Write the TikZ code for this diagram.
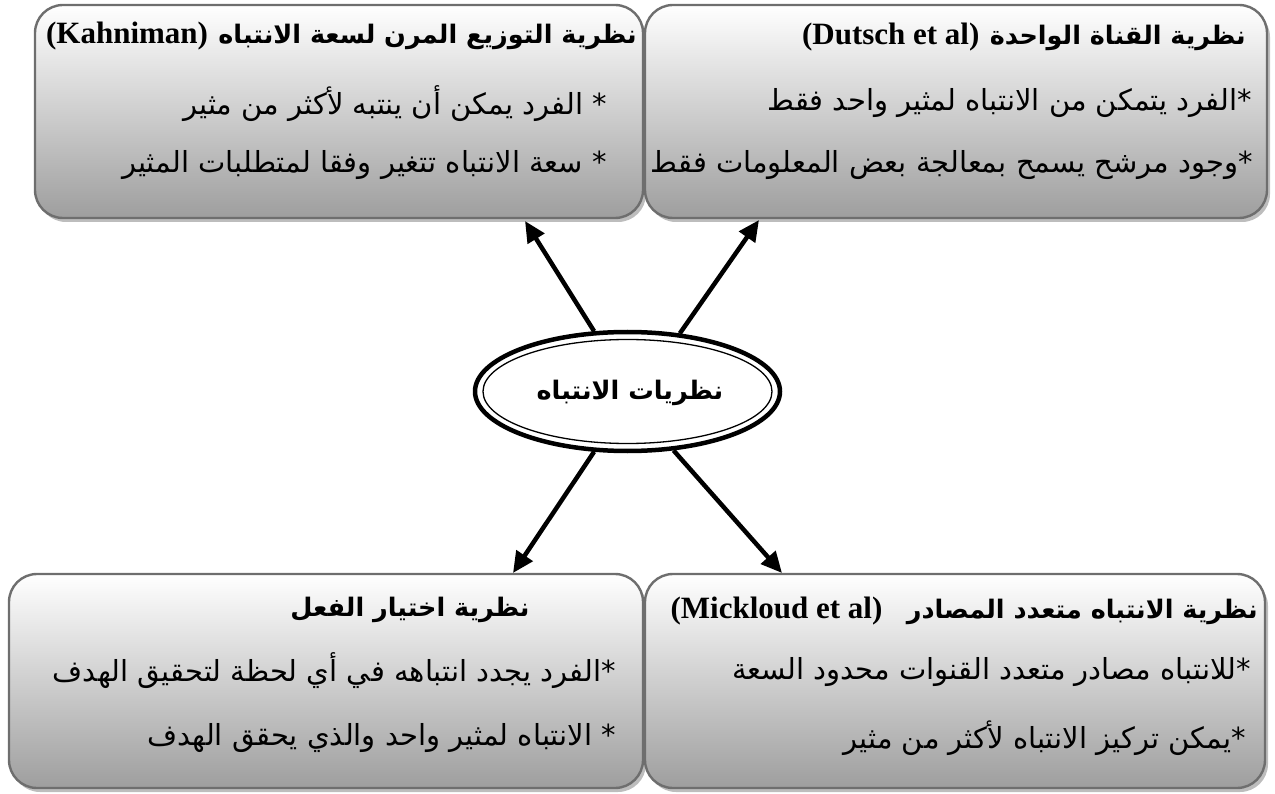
\documentclass[tikz,border=0pt]{standalone}
\usepackage{fontspec}
\TeXXeTstate=1
\newfontfamily\arabicfont[Script=Arabic]{DejaVu Sans}
\newfontfamily\latinfont{Liberation Serif}
\usetikzlibrary{shapes.geometric,arrows.meta,shadows}
\definecolor{boxedge}{HTML}{6E6E6E}
\definecolor{boxbottom}{HTML}{9E9E9E}
\definecolor{shadowgray}{HTML}{BDBDBD}
\tikzset{
  theorybox/.style={rectangle, rounded corners=28pt, draw=boxedge, line width=2.4pt,
    top color=white, bottom color=boxbottom, inner sep=0pt,
    drop shadow={shadow xshift=3pt, shadow yshift=-4pt, fill=shadowgray, opacity=1}},
  titletext/.style={inner sep=0pt, font=\arabicfont\bfseries\fontsize{25.5}{30}\selectfont},
  latintitle/.style={inner sep=0pt, font=\latinfont\bfseries\fontsize{31}{35}\selectfont},
  bodytext/.style={inner sep=0pt, font=\arabicfont\fontsize{29}{34}\selectfont},
  arr/.style={line width=4.5pt, -{Triangle[length=21pt,width=19pt]}},
}
\begin{document}
\begin{tikzpicture}[x=1pt,y=-1pt]
\useasboundingbox (0,0) rectangle (1275,794);
% boxes
\node[theorybox, minimum width=608pt, minimum height=213pt] (tl) at (339,111.5) {};
\node[theorybox, minimum width=622pt, minimum height=213pt] (tr) at (956,111.5) {};
\node[theorybox, minimum width=634pt, minimum height=214pt] (bl) at (326,681) {};
\node[theorybox, minimum width=620pt, minimum height=214pt] (br) at (955,681) {};
% top-left texts
\node[titletext, anchor=east] (tlta) at (637,37) {\beginR نظرية التوزيع المرن لسعة الانتباه\endR};
\node[latintitle, anchor=base east] (tltl) at ([xshift=-10pt]tlta.base west) {(Kahniman)};
\node[bodytext, anchor=east] (tl1) at (607,104) {\beginR * الفرد يمكن أن ينتبه لأكثر من مثير\endR};
\node[bodytext, anchor=east] (tl2) at (607,165) {\beginR * سعة الانتباه تتغير وفقا لمتطلبات المثير\endR};
% top-right texts
\node[titletext, anchor=east] (trta) at (1246,38) {\beginR نظرية القناة الواحدة\endR};
\node[latintitle, anchor=base east] (trtl) at ([xshift=-10pt]trta.base west) {(Dutsch et al)};
\node[bodytext, anchor=east] (tr1) at (1252,103) {\beginR *الفرد يتمكن من الانتباه لمثير واحد فقط\endR};
\node[bodytext, anchor=east] (tr2) at (1253,165) {\beginR *وجود مرشح يسمح بمعالجة بعض المعلومات فقط\endR};
% bottom-left texts
\node[titletext] (blt) at (410,610) {\beginR نظرية اختيار الفعل\endR};
\node[bodytext, anchor=east] (bl1) at (616,671) {\beginR *الفرد يجدد انتباهه في أي لحظة لتحقيق الهدف\endR};
\node[bodytext, anchor=east] (bl2) at (616,738) {\beginR * الانتباه لمثير واحد والذي يحقق الهدف\endR};
% bottom-right texts
\node[titletext, anchor=east] (brta) at (1258,612) {\beginR نظرية الانتباه متعدد المصادر\endR};
\node[latintitle, anchor=base east] (brtl) at ([xshift=-24pt]brta.base west) {(Mickloud et al)};
\node[bodytext, anchor=east] (br1) at (1251,672) {\beginR *للانتباه مصادر متعدد القنوات محدود السعة\endR};
\node[bodytext, anchor=east] (br2) at (1246,738) {\beginR *يمكن تركيز الانتباه لأكثر من مثير\endR};
% center ellipse
\node[ellipse, draw, line width=4.5pt, fill=white, minimum width=305pt, minimum height=119pt, inner sep=0pt] (c) at (627.5,391.5) {};
\node[ellipse, draw, line width=1.3pt, minimum width=289pt, minimum height=104pt, inner sep=0pt] (ci) at (c.center) {};
\node[inner sep=0pt, font=\arabicfont\bfseries\fontsize{25.5}{30}\selectfont] (ct) at (630,393) {\beginR نظريات الانتباه\endR};
% arrows
\coordinate (tltip) at (525,221);
\coordinate (trtip) at (759,220);
\coordinate (bltip) at (513,573);
\coordinate (brtip) at (782,573);
\draw[arr] (c.119) -- (tltip);
\draw[arr] (c.48) -- (trtip);
\draw[arr] (c.241) -- (bltip);
\draw[arr] (c.308) -- (brtip);
\end{tikzpicture}
\end{document}
